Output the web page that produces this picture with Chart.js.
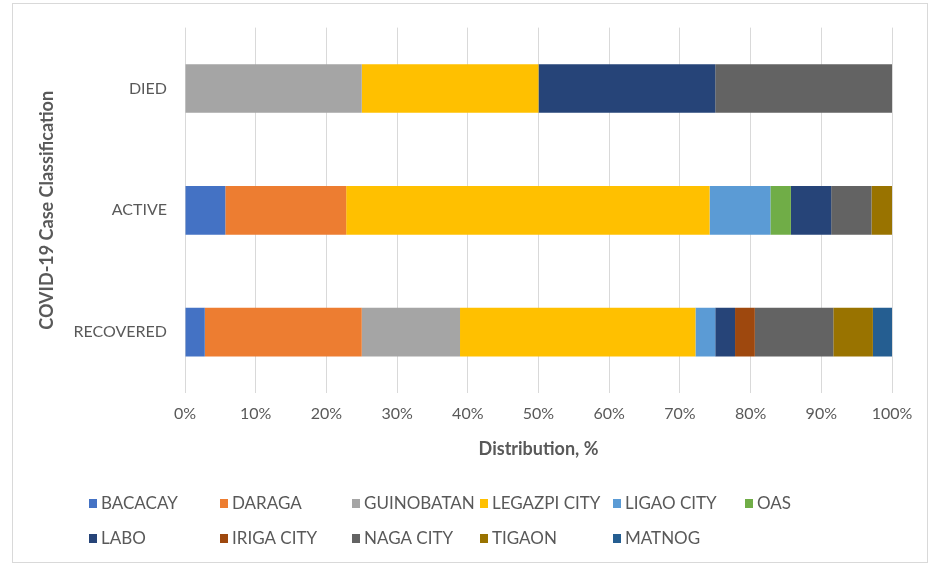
<!DOCTYPE html>
<html>
<head>
<meta charset="utf-8">
<script src="https://cdn.jsdelivr.net/npm/chart.js@4.4.1/dist/chart.umd.min.js"></script>
<style>
  html, body { margin: 0; padding: 0; background: #fff; }
  #wrap { width: 932px; height: 567px; position: relative; }
</style>
</head>
<body>
<div id="wrap"><canvas id="myChart" width="932" height="567"></canvas></div>
<script>
// categories, top to bottom
const kategori = ['DIED', 'ACTIVE', 'RECOVERED'];

// share of each municipality, % (DIED, ACTIVE, RECOVERED)
const bacacay    = [0, 5.7, 2.8];
const daraga     = [0, 17.1, 22.2];
const guinobatan = [25, 0, 13.9];
const legazpi    = [25, 51.4, 33.3];
const ligao      = [0, 8.6, 2.8];
const oas        = [0, 2.9, 0];
const labo       = [25, 5.7, 2.8];
const iriga      = [0, 0, 2.8];
const naga       = [25, 5.7, 11.1];
const tigaon     = [0, 2.9, 5.6];
const matnog     = [0, 0, 2.7];

const tickX = [0, 10, 20, 30, 40, 50, 60, 70, 80, 90, 100];

const seri = [
    { label: 'BACACAY', data: bacacay, warna: '#4472C4' },
    { label: 'DARAGA', data: daraga, warna: '#ED7D31' },
    { label: 'GUINOBATAN', data: guinobatan, warna: '#A5A5A5' },
    { label: 'LEGAZPI CITY', data: legazpi, warna: '#FFC000' },
    { label: 'LIGAO CITY', data: ligao, warna: '#5B9BD5' },
    { label: 'OAS', data: oas, warna: '#70AD47' },
    { label: 'LABO', data: labo, warna: '#264478' },
    { label: 'IRIGA CITY', data: iriga, warna: '#9E480E' },
    { label: 'NAGA CITY', data: naga, warna: '#636363' },
    { label: 'TIGAON', data: tigaon, warna: '#997300' },
    { label: 'MATNOG', data: matnog, warna: '#255E91' },
];

const fontName = 'Lato, "Open Sans", sans-serif';
const abu = '#595959';

// legend in fixed columns, like the original
const kolomX = [89, 220, 352, 480, 613, 745];
const barisY = [503, 538];

const legendGrid = {
    id: 'legendGrid',
    afterDraw(chart) {
        const ctx = chart.ctx;
        ctx.save();
        ctx.font = '17px ' + fontName;
        ctx.textBaseline = 'middle';
        chart.data.datasets.forEach((ds, i) => {
            const x = kolomX[i % 6];
            const y = barisY[Math.floor(i / 6)];
            ctx.fillStyle = ds.backgroundColor;
            ctx.fillRect(x, y - 4, 8, 9);
            ctx.fillStyle = abu;
            ctx.fillText(ds.label, x + 12, y + 1);
        });
        ctx.restore();
    }
};

const bingkai = {
    id: 'bingkai',
    beforeDraw(chart) {
        const ctx = chart.ctx;
        ctx.save();
        ctx.fillStyle = '#fff';
        ctx.fillRect(0, 0, chart.width, chart.height);
        ctx.strokeStyle = '#d9d9d9';
        ctx.lineWidth = 1;
        ctx.strokeRect(12.5, 3.5, 915, 559);
        ctx.restore();
    }
};

const ctx = document.getElementById('myChart');
new Chart(ctx, {
    type: 'bar',
    data: {
        labels: kategori,
        datasets: seri.map(s => ({
            label: s.label,
            data: s.data,
            backgroundColor: s.warna,
            borderWidth: 0,
            barPercentage: 0.4,
            categoryPercentage: 1.0
        }))
    },
    options: {
        indexAxis: 'y',
        responsive: false,
        animation: false,
        layout: { padding: { left: 0, top: 26, right: 40, bottom: 97 } },
        plugins: {
            legend: { display: false },
            tooltip: { enabled: false }
        },
        scales: {
            x: {
                stacked: true,
                min: 0,
                max: 100,
                afterBuildTicks(scale) {
                    scale.ticks = tickX.map(v => ({ value: v }));
                },
                afterFit(scale) { scale.height = 77; },
                ticks: {
                    callback: v => v + '%',
                    color: abu,
                    padding: 11,
                    font: { family: fontName, size: 16 }
                },
                grid: { color: '#d9d9d9', drawTicks: false },
                border: { display: false },
                title: {
                    display: true,
                    text: 'Distribution, %',
                    color: abu,
                    padding: { top: 0, bottom: 10 },
                    font: { family: fontName, size: 18, weight: 'bold' }
                }
            },
            y: {
                stacked: true,
                afterFit(scale) { scale.width = 185; },
                ticks: {
                    color: abu,
                    padding: 18,
                    font: { family: fontName, size: 16 }
                },
                grid: { display: false, drawTicks: false },
                border: { display: false },
                title: {
                    display: true,
                    text: 'COVID-19 Case Classification',
                    color: abu,
                    padding: { top: 36, bottom: 0 },
                    font: { family: fontName, size: 18, weight: 'bold' }
                }
            }
        }
    },
    plugins: [bingkai, legendGrid]
});
</script>
</body>
</html>
